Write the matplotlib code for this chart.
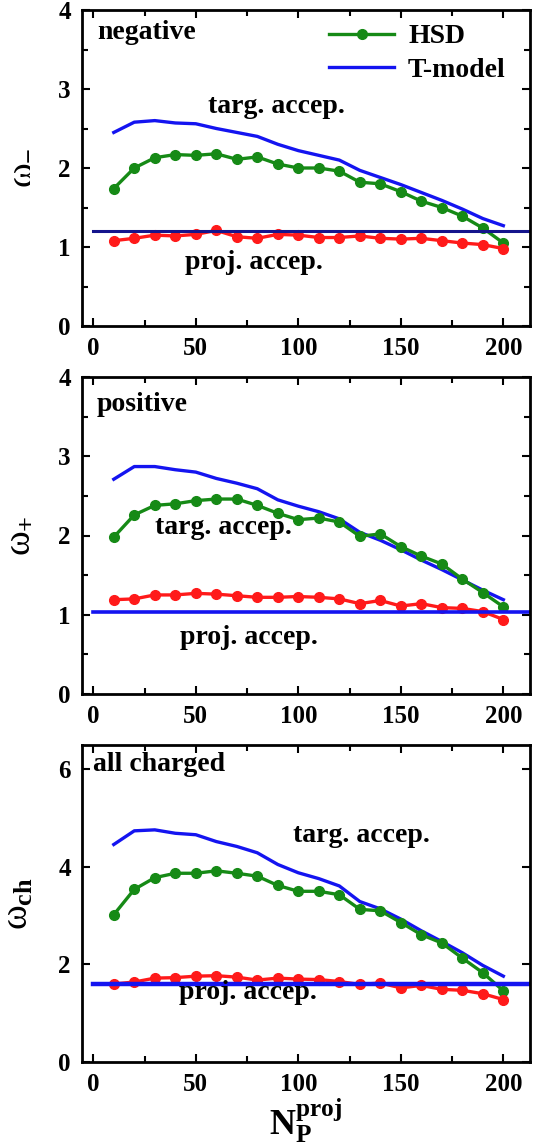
"""
    Scaled variance omega vs number of projectile participants
    HSD (dots) vs T-model (lines), target / projectile acceptance
"""

import numpy as np
import matplotlib
matplotlib.use("Agg")
import matplotlib.pyplot as plt
from matplotlib.ticker import MultipleLocator

FONTSIZE = 19

plt.rcParams.update({
    "font.family": "serif",
    "font.serif": ["Liberation Serif", "DejaVu Serif"],
    "font.weight": "bold",
    "mathtext.fontset": "custom",
    "mathtext.rm": "Liberation Serif:bold",
    "mathtext.it": "Liberation Serif:bold",
    "mathtext.bf": "Liberation Serif:bold",
    "font.size": FONTSIZE,
    "axes.linewidth": 2.0,
    "xtick.labelsize": FONTSIZE - 1,
    "ytick.labelsize": FONTSIZE - 1,
})

GREEN = "#168a16"
RED = "#ff1a1a"
BLUE = "#1414f0"
NAVY = "#14148c"

n_proj = [10, 20, 30, 40, 50, 60, 70, 80, 90, 100,
          110, 120, 130, 140, 150, 160, 170, 180, 190, 200]

# negative
hsd_targ_neg = [1.74, 2.00, 2.13, 2.17, 2.16, 2.18, 2.11, 2.14, 2.05, 2.00,
                2.00, 1.96, 1.82, 1.80, 1.70, 1.58, 1.50, 1.39, 1.24, 1.05]
tmod_targ_neg = [2.45, 2.58, 2.60, 2.57, 2.56, 2.50, 2.45, 2.40, 2.30, 2.22,
                 2.16, 2.10, 1.97, 1.88, 1.79, 1.69, 1.59, 1.48, 1.36, 1.27]
hsd_proj_neg = [1.08, 1.11, 1.15, 1.14, 1.16, 1.21, 1.13, 1.11, 1.16, 1.15,
                1.12, 1.12, 1.14, 1.11, 1.10, 1.11, 1.08, 1.05, 1.03, 0.98]
tmod_proj_neg = 1.20

# positive
hsd_targ_pos = [1.98, 2.26, 2.38, 2.40, 2.44, 2.46, 2.46, 2.38, 2.28, 2.20,
                2.22, 2.17, 1.99, 2.02, 1.86, 1.74, 1.64, 1.45, 1.28, 1.10]
tmod_targ_pos = [2.71, 2.87, 2.87, 2.83, 2.80, 2.72, 2.66, 2.59, 2.45, 2.37,
                 2.30, 2.21, 2.04, 1.94, 1.82, 1.69, 1.57, 1.44, 1.31, 1.19]
hsd_proj_pos = [1.19, 1.20, 1.25, 1.25, 1.27, 1.26, 1.24, 1.22, 1.22, 1.23,
                1.22, 1.20, 1.14, 1.18, 1.11, 1.14, 1.09, 1.08, 1.04, 0.94]
tmod_proj_pos = 1.04

# all charged
hsd_targ_ch = [3.02, 3.54, 3.78, 3.87, 3.87, 3.92, 3.87, 3.81, 3.62, 3.50,
               3.50, 3.43, 3.13, 3.10, 2.86, 2.61, 2.44, 2.13, 1.83, 1.46]
tmod_targ_ch = [4.46, 4.74, 4.76, 4.69, 4.66, 4.52, 4.42, 4.29, 4.05, 3.88,
                3.76, 3.61, 3.29, 3.14, 2.93, 2.69, 2.47, 2.24, 1.98, 1.76]
hsd_proj_ch = [1.60, 1.64, 1.72, 1.73, 1.76, 1.77, 1.74, 1.68, 1.72, 1.70,
               1.69, 1.65, 1.59, 1.62, 1.52, 1.57, 1.49, 1.47, 1.40, 1.28]
tmod_proj_ch = 1.60

panels = [
    dict(hsd_targ=hsd_targ_neg, tmod_targ=tmod_targ_neg, hsd_proj=hsd_proj_neg,
         tmod_proj=tmod_proj_neg, hcolor=NAVY, hlw=2.2,
         ylabel="ω$_{-}$", ylim=(0, 4), ymaj=1, ymin=0.5,
         title="negative", title_xy=(1.8, 3.71),
         targ_xy=(56, 2.78), proj_xy=(44.7, 0.80)),
    dict(hsd_targ=hsd_targ_pos, tmod_targ=tmod_targ_pos, hsd_proj=hsd_proj_pos,
         tmod_proj=tmod_proj_pos, hcolor=BLUE, hlw=2.6,
         ylabel="ω$_{+}$", ylim=(0, 4), ymaj=1, ymin=0.5,
         title="positive", title_xy=(1.7, 3.65),
         targ_xy=(30, 2.10), proj_xy=(42.3, 0.71)),
    dict(hsd_targ=hsd_targ_ch, tmod_targ=tmod_targ_ch, hsd_proj=hsd_proj_ch,
         tmod_proj=tmod_proj_ch, hcolor=BLUE, hlw=3.2,
         ylabel="ω$_{ch}$", ylim=(0, 6.5), ymaj=2, ymin=None,
         title="all charged", title_xy=(0, 6.10),
         targ_xy=(97.5, 4.64), proj_xy=(41.8, 1.43)),
]

W, H = 534, 1148
fig = plt.figure(figsize=(W / 100, H / 100), dpi=100)

# axes boxes in pixels: (left, top, right, bottom)
boxes = [(82, 10, 530, 326), (82, 377, 530, 694), (82, 745, 530, 1062)]

for i, (p, box) in enumerate(zip(panels, boxes)):
    l, t, r, b = box
    ax = fig.add_axes([l / W, 1 - b / H, (r - l) / W, (b - t) / H])

    ax.plot(n_proj, p["tmod_targ"], '-', color=BLUE, lw=2.4, label='T-model')
    ax.plot(n_proj, p["hsd_targ"], '-o', color=GREEN, lw=2.4, ms=7, label='HSD')
    ax.plot(n_proj, p["hsd_proj"], '-o', color=RED, lw=2.4, ms=7)
    ax.plot([0, 215], [p["tmod_proj"]] * 2, '-', color=p["hcolor"], lw=p["hlw"])

    ax.set_xlim(-5.5, 213)
    ax.set_ylim(*p["ylim"])
    ax.xaxis.set_major_locator(MultipleLocator(50))
    ax.xaxis.set_minor_locator(MultipleLocator(25))
    ax.yaxis.set_major_locator(MultipleLocator(p["ymaj"]))
    if p["ymin"]:
        ax.yaxis.set_minor_locator(MultipleLocator(p["ymin"]))
    else:
        ax.yaxis.set_minor_locator(MultipleLocator(p["ymaj"]))
    ax.tick_params(which='both', direction='in', top=True, right=True, width=1.5)
    ax.tick_params(which='major', length=6, pad=8)
    ax.tick_params(which='minor', length=4)

    ax.set_ylabel(p["ylabel"], fontsize=27, fontweight='normal', labelpad=16)

    ax.text(*p["title_xy"], p["title"], ha='left', va='center', fontsize=FONTSIZE + 1)
    ax.text(*p["targ_xy"], 'targ. accep.', ha='left', va='center', fontsize=FONTSIZE + 1)
    ax.text(*p["proj_xy"], 'proj. accep.', ha='left', va='center', fontsize=FONTSIZE + 1)

    if i == 0:
        h, lab = ax.get_legend_handles_labels()
        ax.legend([h[1], h[0]], [lab[1], lab[0]], loc='upper left',
                  bbox_to_anchor=(0.545, 0.965), frameon=False, borderpad=0.1,
                  borderaxespad=0, handlelength=2.35, handletextpad=0.5,
                  labelspacing=0.3, fontsize=FONTSIZE + 1)
    if i == 2:
        ax.set_xlabel(r'$\mathbf{N}_{\mathbf{P}}^{\mathbf{proj}}$', fontsize=26, labelpad=0)

fig.savefig('out.png', dpi=100)
